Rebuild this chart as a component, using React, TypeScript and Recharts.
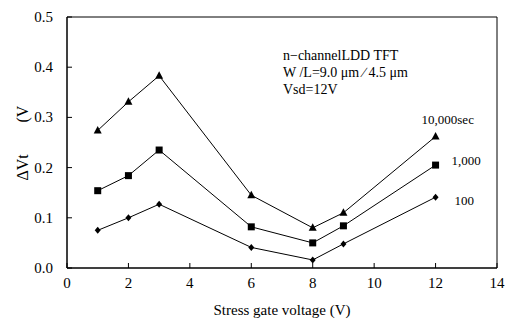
import { LineChart, Line, XAxis, YAxis, ReferenceArea, LabelList } from 'recharts';

const voltages = [1, 2, 3, 6, 8, 9, 12];
const sec10000 = [0.274, 0.331, 0.383, 0.145, 0.080, 0.110, 0.262];
const sec1000 = [0.154, 0.184, 0.235, 0.082, 0.050, 0.084, 0.205];
const sec100 = [0.075, 0.100, 0.127, 0.041, 0.016, 0.048, 0.141];
const seriesNames = ['10,000sec', '1,000', '100'];
const xTicks = [0, 2, 4, 6, 8, 10, 12, 14];
const yTicks = [0, 0.1, 0.2, 0.3, 0.4, 0.5];
const noteLines = ['n\u2212channelLDD TFT', 'W /L=9.0 \u03bcm \u2215 4.5 \u03bcm', 'Vsd=12V'];

const data = voltages.map((v, i) => ({ v, a: sec10000[i], b: sec1000[i], c: sec100[i] }));

const FONT = 'Liberation Serif';
const txt = { fontFamily: FONT } as const;

const Triangle = ({ cx, cy }: any) => (
  <path d={`M${cx},${cy - 4.5} L${cx + 4},${cy + 3} L${cx - 4},${cy + 3} Z`} fill="#000" />
);
const Square = ({ cx, cy }: any) => (
  <rect x={cx - 3.5} y={cy - 3.5} width={7} height={7} fill="#000" />
);
const Diamond = ({ cx, cy }: any) => (
  <path d={`M${cx},${cy - 3.5} L${cx + 3},${cy} L${cx},${cy + 3.5} L${cx - 3},${cy} Z`} fill="#000" />
);

const XTick = ({ x, y, payload }: any) => (
  <g>
    <line x1={x} y1={268} x2={x} y2={263} stroke="#000" />
    <text x={x} y={y} textAnchor="middle" dominantBaseline="central" fontSize={15} style={txt} fill="#000">
      {payload.value}
    </text>
  </g>
);
const YTick = ({ x, y, payload }: any) => (
  <g>
    <line x1={67} y1={y} x2={72} y2={y} stroke="#000" />
    <text x={x} y={y} textAnchor="end" dominantBaseline="central" fontSize={15} style={txt} fill="#000">
      {Number(payload.value).toFixed(1)}
    </text>
  </g>
);

const YTitle = ({ viewBox }: any) => {
  const cx = 22;
  const cy = viewBox.y + viewBox.height / 2;
  return (
    <g transform={`rotate(-90 ${cx} ${cy})`}>
      <text x={cx - 38} y={cy} dominantBaseline="central" fontSize={16} style={txt} fill="#000">
        {'\u0394Vt'}
      </text>
      <text x={cx + 20} y={cy} dominantBaseline="central" fontSize={16} style={txt} fill="#000">
        (V
      </text>
    </g>
  );
};

const endLabel = (name: string, dx: number, dy: number) => (props: any) => {
  const { x, y, index } = props;
  if (index !== voltages.length - 1) return null;
  return (
    <text x={x + dx} y={y + dy} dominantBaseline="central" fontSize={13} style={txt} fill="#000">
      {name}
    </text>
  );
};

export default function App() {
  return (
    <div style={{ position: 'absolute', left: 0, top: 0, width: 513, height: 326, background: '#fff' }}>
      <LineChart width={513} height={326} data={data} margin={{ top: 17, right: 16, left: 0, bottom: 0 }}>
        <XAxis
          dataKey="v"
          type="number"
          domain={[0, 14]}
          ticks={xTicks}
          tickSize={0}
          tickMargin={15}
          tickLine={false}
          axisLine={{ stroke: '#000' }}
          height={58}
          tick={<XTick />}
          label={{ value: 'Stress gate voltage (V)', position: 'insideBottom', offset: 11, fontSize: 15, style: txt, fill: '#000' }}
        />
        <YAxis
          type="number"
          domain={[0, 0.5]}
          ticks={yTicks}
          tickSize={0}
          tickMargin={14}
          tickLine={false}
          axisLine={{ stroke: '#000' }}
          width={67}
          tick={<YTick />}
          label={<YTitle />}
        />
        <ReferenceArea x1={0} x2={14} y1={0} y2={0.5} fill="none" stroke="#000" strokeWidth={1} />
        <Line dataKey="a" stroke="#000" strokeWidth={1} dot={<Triangle />} activeDot={false} isAnimationActive={false}>
          <LabelList content={endLabel(seriesNames[0], -14, -17)} />
        </Line>
        <Line dataKey="b" stroke="#000" strokeWidth={1} dot={<Square />} activeDot={false} isAnimationActive={false}>
          <LabelList content={endLabel(seriesNames[1], 16, -5)} />
        </Line>
        <Line dataKey="c" stroke="#000" strokeWidth={1} dot={<Diamond />} activeDot={false} isAnimationActive={false}>
          <LabelList content={endLabel(seriesNames[2], 19, 3)} />
        </Line>
        {noteLines.map((t, i) => (
          <text key={i} x={283} y={55 + i * 17} dominantBaseline="central" fontSize={14} style={txt} fill="#000">
            {t}
          </text>
        ))}
      </LineChart>
    </div>
  );
}
